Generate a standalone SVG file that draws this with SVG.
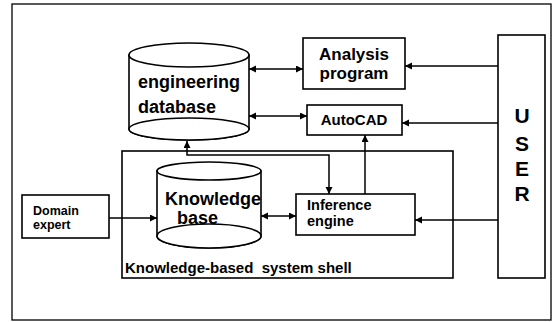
<svg xmlns="http://www.w3.org/2000/svg" width="552" height="322" viewBox="0 0 552 322">
<style>
.box{fill:#fff;stroke:#000;stroke-width:1.6}
.cyl{fill:#fff;stroke:#000;stroke-width:1.6}
.t{font-family:"Liberation Sans",Arial,sans-serif;font-weight:bold;fill:#000}
.c{fill:none;stroke:#000;stroke-width:1.5}
</style>
<defs>
<marker id="ah" markerUnits="userSpaceOnUse" markerWidth="8" markerHeight="8" refX="7" refY="3.5" orient="auto-start-reverse">
<path d="M0,0 L7,3.5 L0,7 z" fill="#000"/>
</marker>
</defs>
<rect x="12" y="4" width="539" height="316" fill="#fff" stroke="#000" stroke-width="1.3"/>

<g id="shell">
<rect class="box" x="122" y="151" width="331" height="127" fill="none"/>
<text class="t" x="125" y="273" font-size="15" xml:space="preserve">Knowledge-based  system shell</text>
</g>

<g id="engineering-database">
<path class="cyl" d="M129,55 L129,129 A60,11 0 0 0 249,129 L249,55 Z"/>
<ellipse class="cyl" cx="189" cy="55" rx="60" ry="12"/>
<ellipse class="cyl" cx="189" cy="129" rx="60" ry="11" fill="none"/>
<text class="t" x="138" y="88" font-size="18">engineering</text>
<text class="t" x="138" y="113" font-size="18">database</text>
</g>

<g id="analysis-program">
<rect class="box" x="303" y="38" width="102" height="51"/>
<text class="t" x="354" y="60" font-size="17" text-anchor="middle">Analysis</text>
<text class="t" x="354" y="79" font-size="17" text-anchor="middle">program</text>
</g>

<g id="autocad">
<rect class="box" x="307" y="105" width="95" height="30"/>
<text class="t" x="354" y="125" font-size="15" text-anchor="middle">AutoCAD</text>
</g>

<g id="user">
<rect class="box" x="498" y="35" width="47" height="243"/>
<text class="t" x="522" y="123" font-size="21" text-anchor="middle">U</text>
<text class="t" x="522" y="151" font-size="21" text-anchor="middle">S</text>
<text class="t" x="522" y="176" font-size="21" text-anchor="middle">E</text>
<text class="t" x="522" y="201" font-size="21" text-anchor="middle">R</text>
</g>

<g id="knowledge-base">
<path class="cyl" d="M157,171 L157,236 A52,12 0 0 0 261,236 L261,171 Z"/>
<ellipse class="cyl" cx="209" cy="171" rx="52" ry="9"/>
<ellipse class="cyl" cx="209" cy="236" rx="52" ry="12" fill="none"/>
<text class="t" x="165" y="205" font-size="18">Knowledge</text>
<text class="t" x="177" y="224" font-size="18">base</text>
</g>

<g id="inference-engine">
<rect class="box" x="296" y="194" width="119" height="41"/>
<text class="t" x="307" y="210" font-size="14.5">Inference</text>
<text class="t" x="307" y="226" font-size="14.5">engine</text>
</g>

<g id="domain-expert">
<rect class="box" x="22" y="195" width="87" height="43"/>
<text class="t" x="33" y="215" font-size="12.5">Domain</text>
<text class="t" x="33" y="229" font-size="12.5">expert</text>
</g>

<g id="connectors">
<line class="c" x1="249" y1="69" x2="303" y2="69" marker-start="url(#ah)" marker-end="url(#ah)"/>
<line class="c" x1="249" y1="116" x2="307" y2="116" marker-start="url(#ah)" marker-end="url(#ah)"/>
<line class="c" x1="498" y1="66" x2="405" y2="66" marker-end="url(#ah)"/>
<line class="c" x1="498" y1="123" x2="402" y2="123" marker-end="url(#ah)"/>
<line class="c" x1="498" y1="220" x2="415" y2="220" marker-end="url(#ah)"/>
<line class="c" x1="109" y1="218" x2="157" y2="218" marker-end="url(#ah)"/>
<line class="c" x1="261" y1="216" x2="296" y2="216" marker-start="url(#ah)" marker-end="url(#ah)"/>
<polyline class="c" points="187,141 187,155 329,155 329,194" marker-start="url(#ah)" marker-end="url(#ah)"/>
<line class="c" x1="365" y1="194" x2="365" y2="135" marker-end="url(#ah)"/>
</g>
</svg>
